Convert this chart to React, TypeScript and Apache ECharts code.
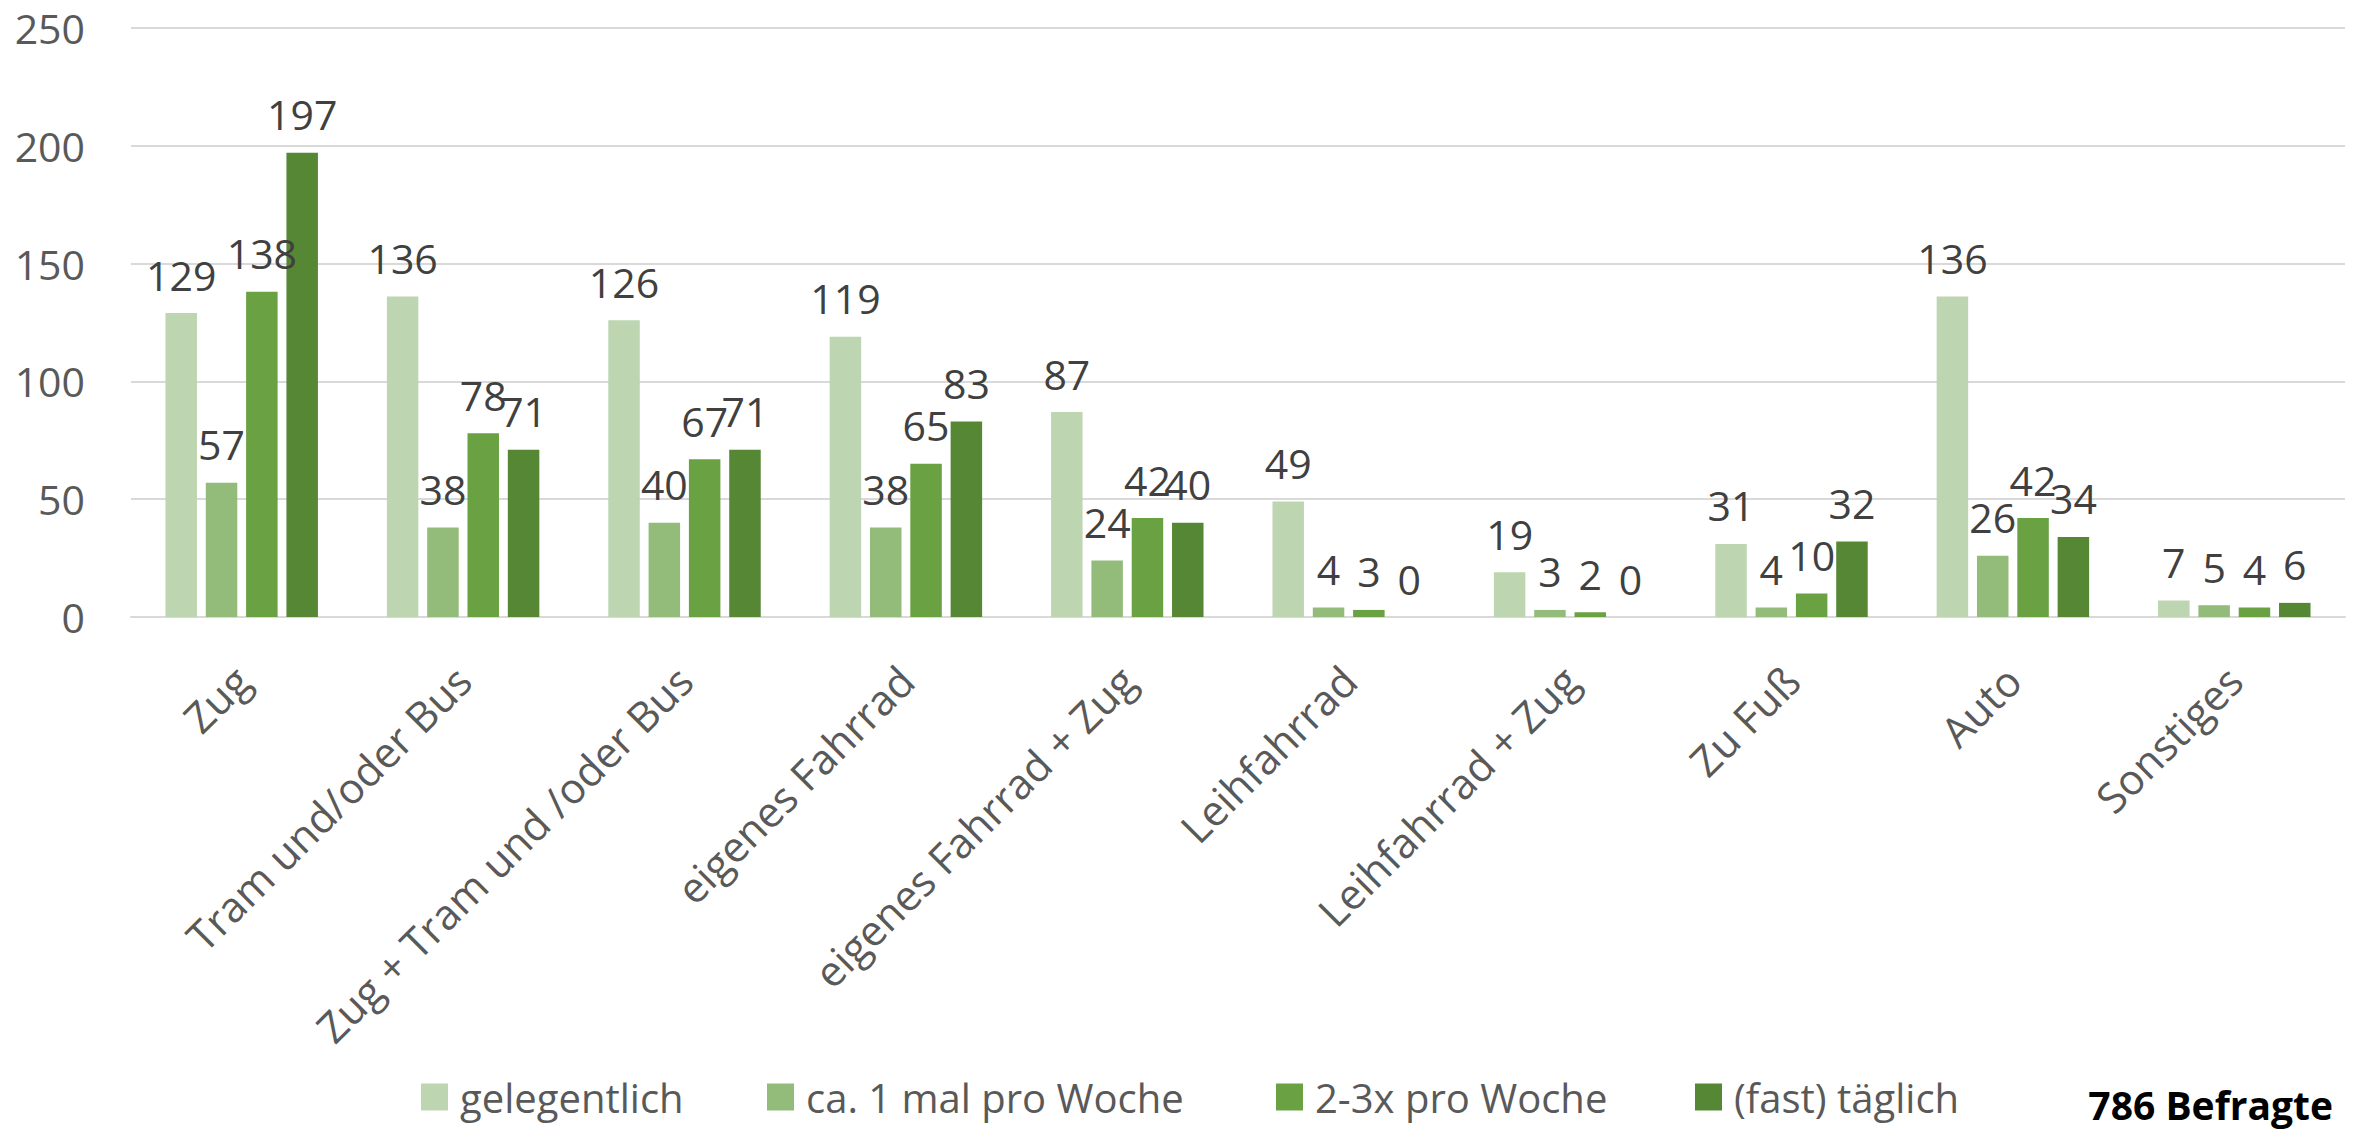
import React, { useEffect, useRef } from "react";
import * as echarts from "echarts";

const categories = [
  "Zug",
  "Tram und/oder Bus",
  "Zug + Tram und /oder Bus",
  "eigenes Fahrrad",
  "eigenes Fahrrad + Zug",
  "Leihfahrrad",
  "Leihfahrrad + Zug",
  "Zu Fuß",
  "Auto",
  "Sonstiges",
];

const seriesNames = ["gelegentlich", "ca. 1 mal pro Woche", "2-3x pro Woche", "(fast) täglich"];

const gelegentlich = [129, 136, 126, 119, 87, 49, 19, 31, 136, 7];
const einmalProWoche = [57, 38, 40, 38, 24, 4, 3, 4, 26, 5];
const zweiDreiProWoche = [138, 78, 67, 65, 42, 3, 2, 10, 42, 4];
const fastTaeglich = [197, 71, 71, 83, 40, 0, 0, 32, 34, 6];

const colors = ["#BDD6B1", "#93BC7B", "#6AA142", "#558735"];
const legendLefts = [416, 762, 1271, 1690];

const FONT = "'Open Sans', 'Noto Sans', sans-serif";

export default function App() {
  const ref = useRef<HTMLDivElement>(null);

  useEffect(() => {
    if (!ref.current) return;
    const chart = echarts.init(ref.current, undefined, { renderer: "svg" });
    const values = [gelegentlich, einmalProWoche, zweiDreiProWoche, fastTaeglich];
    chart.setOption({
      animation: false,
      backgroundColor: "#FFFFFF",
      grid: { left: 131, right: 16, top: 28, bottom: 521, containLabel: false },
      legend: seriesNames.map((name, i) => ({
        data: [name],
        left: legendLefts[i],
        top: 1072,
        icon: "rect",
        itemWidth: 27,
        itemHeight: 27,
        textStyle: { fontFamily: FONT, fontSize: 40, color: "#595959", padding: [0, 0, 0, 7] },
      })),
      xAxis: {
        type: "category",
        data: categories,
        axisLine: { show: true, lineStyle: { color: "#D9D9D9", width: 2 } },
        axisTick: { show: false },
        axisLabel: {
          rotate: 45,
          interval: 0,
          margin: 56,
          fontFamily: FONT,
          fontSize: 42,
          color: "#595959",
        },
      },
      yAxis: {
        type: "value",
        min: 0,
        max: 250,
        interval: 50,
        axisLine: { show: false },
        axisTick: { show: false },
        splitLine: { lineStyle: { color: "#D9D9D9", width: 2 } },
        axisLabel: { margin: 46, fontFamily: FONT, fontSize: 41, color: "#595959" },
      },
      series: seriesNames.map((name, i) => ({
        name,
        type: "bar",
        data: values[i],
        barWidth: 31.5,
        barGap: "28%",
        itemStyle: { color: colors[i] },
        label: {
          show: true,
          position: "top",
          distance: 18,
          fontFamily: FONT,
          fontSize: 41,
          color: "#404040",
        },
      })),
      graphic: [
        {
          type: "text",
          right: 28,
          top: 1085,
          style: {
            text: "786 Befragte",
            fontFamily: FONT,
            fontSize: 39,
            fontWeight: "bold",
            fill: "#000000",
          },
        },
      ],
    });
    return () => chart.dispose();
  }, []);

  return (
    <div
      ref={ref}
      style={{ position: "fixed", left: 0, top: 0, width: 2361, height: 1138 }}
    />
  );
}
